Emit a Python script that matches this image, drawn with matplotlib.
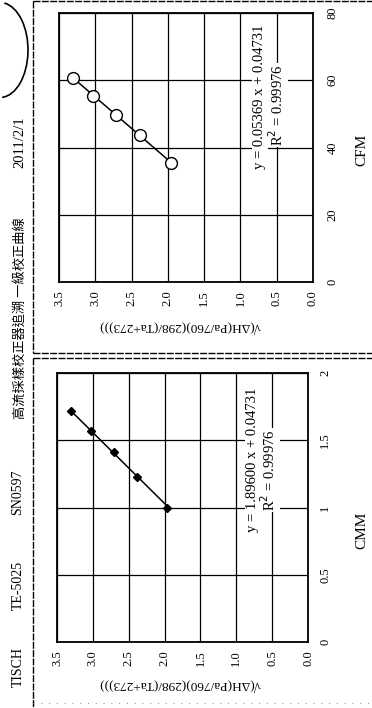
import numpy as np
import matplotlib.pyplot as plt
from matplotlib.lines import Line2D
from matplotlib.patches import Arc

# calibration points (scanned page is turned 90 degrees)
cmm = [1.00, 1.23, 1.41, 1.57, 1.72]
cfm = [35.3, 43.6, 49.8, 55.4, 60.7]
sqrt_val = [1.96, 2.38, 2.71, 3.03, 3.31]

cmm_fit = (1.89600, 0.04731)
cfm_fit = (0.05369, 0.04731)
cmm_label = ["y = 1.89600 x + 0.04731", "R$^2$ = 0.99976"]
cfm_label = ["y = 0.05369 x + 0.04731", "R$^2$ = 0.99976"]

value_ticks = [0.0, 0.5, 1.0, 1.5, 2.0, 2.5, 3.0, 3.5]
cmm_ticks = [0, 0.5, 1, 1.5, 2]
cmm_ticklabels = ["0", "0.5", "1", "1.5", "2"]
cfm_ticks = [0, 20, 40, 60, 80]

header = ["TISCH", "TE-5025", "SN0597"]
title = "高流採樣校正器追溯 一級校正曲線"
date = "2011/2/1"
ylabel = "√(ΔH(Pa/760)(298/(Ta+273)))"

W, H = 372, 708
serif = ["Liberation Serif", "DejaVu Serif"]
plt.rcParams['font.family'] = serif

fig = plt.figure(figsize=(W / 100, H / 100), dpi=100)


def box(x0, y0, x1, y1):
	# pixel box (y down) -> figure fractions
	return [x0 / W, 1 - y1 / H, (x1 - x0) / W, (y1 - y0) / H]


def fx(x):
	return x / W


def fy(y):
	return 1 - y / H


def panel(rect, flow, ticks, ticklabels, top, fit, label, labelpos, filled, xpad, ypad):
	ax = fig.add_axes(rect)
	ax.set_xlim(3.5, 0)
	ax.set_ylim(0, top)
	ax.set_xticks(value_ticks)
	ax.set_xticklabels(["%.1f" % v for v in value_ticks], rotation=90, fontsize=9)
	ax.set_yticks(ticks)
	ax.set_yticklabels(ticklabels, rotation=90, fontsize=9, va="center")
	ax.yaxis.tick_right()
	ax.tick_params(length=0)
	ax.tick_params(axis="x", pad=xpad)
	ax.tick_params(axis="y", pad=ypad)
	ax.grid(True, color="black", lw=0.9)
	for s in ax.spines.values():
		s.set_linewidth(1.3)
	lo, hi = min(flow), max(flow)
	ax.plot([fit[0] * lo + fit[1], fit[0] * hi + fit[1]], [lo, hi], color="black", lw=1.1)
	if filled:
		ax.plot(sqrt_val, flow, "D", color="black", ms=4)
	else:
		ax.plot(sqrt_val, flow, "o", mfc="white", mec="black", mew=1, ms=8.5)
	(x0, y0), (x1, y1) = labelpos
	fig.text(fx(x0), fy(y0), label[0], rotation=90, ha="center", va="center", fontsize=10.5,
		bbox=dict(fc="white", ec="none", pad=1))
	fig.text(fx(x1), fy(y1), label[1], rotation=90, ha="center", va="center", fontsize=10.5,
		bbox=dict(fc="white", ec="none", pad=1))
	return ax


panel(box(59, 13, 313, 282), cfm, cfm_ticks, [str(t) for t in cfm_ticks], 80,
	cfm_fit, cfm_label, ((260, 97), (277, 105)), False, 6, 10)
panel(box(57, 373, 308, 642), cmm, cmm_ticks, cmm_ticklabels, 2,
	cmm_fit, cmm_label, ((253, 460), (269, 470)), True, 6, 8)

fig.text(fx(180), fy(326), ylabel, rotation=180, ha="center", va="center", fontsize=9.5)
fig.text(fx(180), fy(684), ylabel, rotation=180, ha="center", va="center", fontsize=9.5)
fig.text(fx(362), fy(150), "CFM", rotation=90, ha="center", va="center", fontsize=11)
fig.text(fx(362), fy(530), "CMM", rotation=90, ha="center", va="center", fontsize=11)

# header strip
for s, y in zip(header, [667, 585, 492]):
	fig.text(fx(18), fy(y), s, rotation=90, ha="center", va="center", fontsize=10)
fig.text(fx(20), fy(318), title, rotation=90, ha="center", va="center", fontsize=9.5,
	family=["Noto Sans CJK TC", "DejaVu Sans"])
fig.text(fx(20), fy(142), date, rotation=90, ha="center", va="center", fontsize=10.5)

# dashed page frame
dash = dict(color="black", lw=1, ls=(0, (5, 1)), transform=fig.transFigure)
frame = [((33, 33), (1, 353)), ((33, 33), (358, 708)), ((33, 372), (353, 353)),
	((33, 372), (358, 358)), ((33, 372), (1, 1))]
for xs, ys in frame:
	fig.add_artist(Line2D([fx(x) for x in xs], [fy(y) for y in ys], **dash))
fig.add_artist(Line2D([fx(33), fx(372)], [fy(703), fy(703)], color="0.6", lw=0.8,
	ls=(0, (1, 6)), transform=fig.transFigure))

# hand drawn mark in the corner
fig.add_artist(Arc((fx(0), fy(50)), fx(56), 95 / H, theta1=-85, theta2=80,
	color="black", lw=1.2, transform=fig.transFigure))

fig.savefig("out.png", dpi=100, facecolor="white")
